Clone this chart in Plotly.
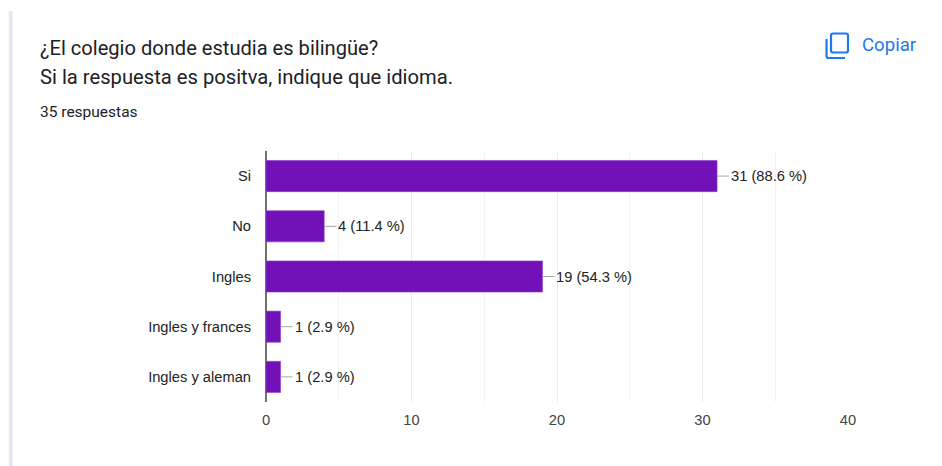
import plotly.graph_objects as go

categories = ["Si", "No", "Ingles", "Ingles y frances", "Ingles y aleman"]
counts = [31, 4, 19, 1, 1]
labels = ["31 (88.6 %)", "4 (11.4 %)", "19 (54.3 %)", "1 (2.9 %)", "1 (2.9 %)"]
x_ticks = [0, 10, 20, 30, 40]
title_lines = ["¿El colegio donde estudia es bilingüe?", "Si la respuesta es positva, indique que idioma."]
subtitle = "35 respuestas"
copy_label = "Copiar"

W, H = 942, 466
L, R, T, B = 265.5, 848, 151, 402
ARIAL = "Liberation Sans, Arial, sans-serif"
ROBOTO = "Roboto, sans-serif"
BLUE = "#1f78f0"


def px(x):
    return (x - L) / (R - L)


def py(y):
    return (B - y) / (B - T)


fig = go.Figure(go.Bar(
    x=counts, y=categories, orientation="h",
    marker=dict(color="#7211b7", line=dict(color="#8a3cc6", width=0.6)),
    hoverinfo="skip", showlegend=False,
))

for v, c, t in zip(counts, categories, labels):
    fig.add_annotation(
        x=v, y=c, xref="x", yref="y", ax=12, ay=0, axref="pixel", ayref="pixel",
        text=t, showarrow=True, arrowhead=0, arrowwidth=1, arrowcolor="#a6a6a6",
        xanchor="left", yanchor="middle", align="left",
        font=dict(family=ARIAL, size=14.7, color="#222222"),
    )

page_text = [
    (37.5, 48, title_lines[0], ROBOTO, 20.1, "#202124"),
    (37.5, 77, title_lines[1], ROBOTO, 20.2, "#202124"),
    (37.5, 112, subtitle, ROBOTO, 15.5, "#202124"),
    (860, 45, copy_label, ROBOTO, 18.6, BLUE),
]
for x, y, t, fam, size, col in page_text:
    fig.add_annotation(
        x=px(x), y=py(y), xref="paper", yref="paper", text=t, showarrow=False,
        xanchor="left", yanchor="middle", font=dict(family=fam, size=size, color=col),
    )


def P(x, y):
    return f"{px(x)},{py(y)}"


front = (f"M {P(833, 33.5)} L {P(846, 33.5)} Q {P(848, 33.5)} {P(848, 35.5)} L {P(848, 50.5)} "
         f"Q {P(848, 52.5)} {P(846, 52.5)} L {P(833, 52.5)} Q {P(831, 52.5)} {P(831, 50.5)} "
         f"L {P(831, 35.5)} Q {P(831, 33.5)} {P(833, 33.5)} Z")
back = f"M {P(826.5, 39)} L {P(826.5, 56)} Q {P(826.5, 58)} {P(828.5, 58)} L {P(845, 58)}"

shapes = [
    dict(type="rect", x0=px(8), x1=px(12), y0=py(466), y1=py(11),
         fillcolor="#e8e6f3", line_width=0),
    dict(type="path", path=front, line=dict(color=BLUE, width=2.2), fillcolor="rgba(0,0,0,0)"),
    dict(type="path", path=back, line=dict(color=BLUE, width=2.2)),
]
for s in shapes:
    s.update(xref="paper", yref="paper", layer="above")
fig.update_layout(
    shapes=shapes,
    width=W, height=H,
    margin=dict(l=L, r=W - R, t=T, b=H - B, pad=0, autoexpand=False),
    paper_bgcolor="white", plot_bgcolor="white",
    bargap=0.38,
    xaxis=dict(
        range=[0, 40], tickvals=x_ticks, ticks="", showline=False,
        gridcolor="#ececec", gridwidth=1, zeroline=True, zerolinecolor="#707070", zerolinewidth=1.5,
        minor=dict(dtick=5, showgrid=True, gridcolor="#f3f3f3", gridwidth=1, ticks=""),
        tickfont=dict(family=ARIAL, size=14.7, color="#444444"), ticklabelstandoff=7,
    ),
    yaxis=dict(
        categoryorder="array", categoryarray=categories, autorange="reversed",
        showgrid=False, ticks="", showline=False, ticklabelstandoff=14,
        tickfont=dict(family=ARIAL, size=14.7, color="#222222"),
    ),
    font=dict(family=ARIAL),
)
fig.write_html("out.html", include_plotlyjs=True, config={"displayModeBar": False},
               post_script="document.body.style.margin='0';")
